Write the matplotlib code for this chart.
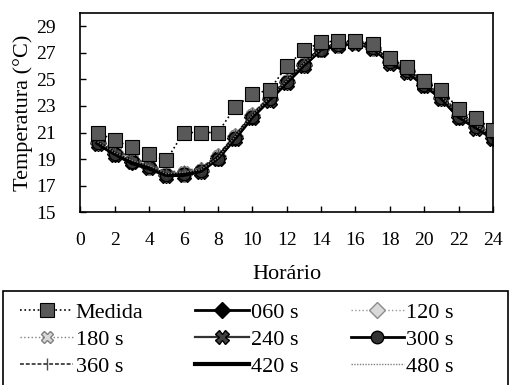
import matplotlib
matplotlib.use("Agg")
import matplotlib.pyplot as plt
from matplotlib.patches import Rectangle

plt.rcParams['font.family'] = ['Liberation Serif', 'DejaVu Serif']

hours = list(range(1, 25))

medida = [21.0, 20.4, 19.9, 19.4, 18.9, 21.0, 21.0, 21.0, 22.9, 23.9, 24.2, 26.0,
          27.2, 27.8, 27.9, 27.9, 27.7, 26.6, 25.9, 24.9, 24.2, 22.8, 22.1, 21.2]
s060 = [20.2, 19.4, 18.8, 18.4, 17.8, 17.9, 18.1, 19.1, 20.6, 22.2, 23.5, 24.8,
        26.1, 27.3, 27.6, 27.8, 27.4, 26.3, 25.6, 24.6, 23.6, 22.2, 21.4, 20.6]
s120 = [20.3, 19.5, 18.9, 18.4, 17.9, 17.9, 18.2, 19.2, 20.7, 22.3, 23.6, 24.9,
        26.2, 27.3, 27.6, 27.8, 27.4, 26.4, 25.7, 24.7, 23.7, 22.3, 21.5, 20.7]
s180 = [20.4, 19.6, 19.0, 18.5, 17.9, 18.0, 18.2, 19.2, 20.7, 22.3, 23.6, 24.9,
        26.2, 27.4, 27.7, 27.9, 27.5, 26.4, 25.7, 24.7, 23.7, 22.4, 21.5, 20.8]
s240 = [20.1, 19.3, 18.8, 18.3, 17.7, 17.8, 18.0, 19.0, 20.5, 22.1, 23.4, 24.7,
        26.0, 27.2, 27.5, 27.7, 27.3, 26.2, 25.5, 24.5, 23.5, 22.1, 21.3, 20.5]
s300 = [20.2, 19.4, 18.8, 18.4, 17.8, 17.9, 18.1, 19.0, 20.6, 22.2, 23.5, 24.8,
        26.1, 27.2, 27.6, 27.8, 27.4, 26.3, 25.6, 24.6, 23.6, 22.2, 21.4, 20.6]
s360 = [20.5, 19.7, 19.1, 18.6, 18.0, 18.1, 18.3, 19.3, 20.8, 22.4, 23.7, 25.0,
        26.3, 27.4, 27.7, 27.9, 27.5, 26.5, 25.8, 24.8, 23.8, 22.5, 21.6, 20.9]
s420 = [20.2, 19.4, 18.7, 18.3, 17.8, 17.8, 18.1, 19.1, 20.6, 22.2, 23.5, 24.8,
        26.1, 27.3, 27.6, 27.8, 27.4, 26.3, 25.6, 24.6, 23.6, 22.2, 21.4, 20.6]
s480 = [20.3, 19.5, 18.9, 18.5, 17.9, 18.0, 18.2, 19.1, 20.7, 22.3, 23.6, 24.9,
        26.2, 27.3, 27.7, 27.8, 27.4, 26.4, 25.7, 24.7, 23.7, 22.3, 21.5, 20.7]

xticks = list(range(0, 25, 2))
yticks = list(range(15, 30, 2))

fig = plt.figure(figsize=(5.12, 3.85), dpi=100)
ax = fig.add_axes([0.157, 0.449, 0.806, 0.517])

h_med, = ax.plot(hours, medida, ls=':', lw=1.2, color='k', marker='s', ms=10,
                 mfc='0.35', mec='k', mew=0.8, label='Medida', zorder=5)
h060, = ax.plot(hours, s060, ls='-', lw=2, color='k', marker='D', ms=8,
                mfc='k', mec='k', label='060 s')
h120, = ax.plot(hours, s120, ls=':', lw=1, color='0.6', marker='D', ms=8,
                mfc='0.85', mec='0.55', label='120 s')
h180, = ax.plot(hours, s180, ls=':', lw=1, color='0.5', marker='X', ms=8,
                mfc='0.85', mec='0.5', label='180 s')
h240, = ax.plot(hours, s240, ls='-', lw=1.6, color='0.2', marker='X', ms=10,
                mfc='0.25', mec='k', label='240 s')
h300, = ax.plot(hours, s300, ls='-', lw=2, color='k', marker='o', ms=9,
                mfc='0.2', mec='k', label='300 s')
h360, = ax.plot(hours, s360, ls=(0, (2, 1)), lw=1.4, color='0.3', marker='|', ms=8,
                mec='0.3', label='360 s')
h420, = ax.plot(hours, s420, ls='-', lw=3, color='k', label='420 s')
h480, = ax.plot(hours, s480, ls=(0, (1, 1)), lw=1, color='0.5', label='480 s')

ax.set_xlim(0, 24)
ax.set_ylim(15, 30)
ax.set_xticks(xticks)
ax.set_yticks(yticks)
ax.tick_params(direction='in', length=4, width=1, labelsize=14)
ax.tick_params(axis='x', pad=14)
ax.tick_params(axis='y', pad=18)
for sp in ax.spines.values():
    sp.set_linewidth(1.2)
ax.set_xlabel('Horário', fontsize=16, labelpad=12)
ax.set_ylabel('Temperatura (°C)', fontsize=16, labelpad=2)

# legend box (runs off the bottom of the figure like the scan)
fig.patches.append(Rectangle((0.006, -0.05), 0.986, 0.294, transform=fig.transFigure,
                             fill=False, edgecolor='k', lw=1.2, zorder=0))

handles = [h_med, h180, h360, h060, h240, h420, h120, h300, h480]
leg = fig.legend(handles=handles, loc='upper left', ncol=3,
                 bbox_to_anchor=(0.039, 0.215),
                 bbox_transform=fig.transFigure, fontsize=16,
                 labelspacing=0.3, handlelength=2.4, handletextpad=0.1,
                 columnspacing=2.35, borderpad=0, borderaxespad=0,
                 frameon=False)

fig.savefig('out.png', dpi=100)
